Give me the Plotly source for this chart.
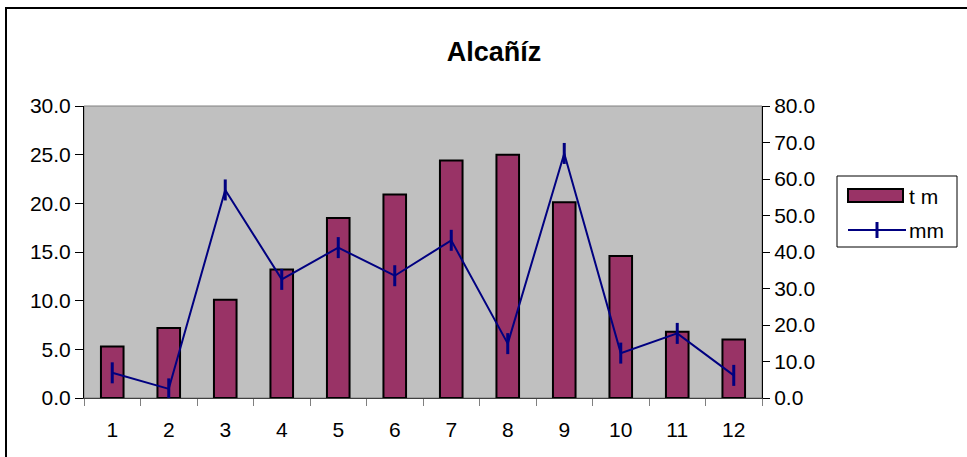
import plotly.graph_objects as go

# Datos de la estación
meses = ['1', '2', '3', '4', '5', '6', '7', '8', '9', '10', '11', '12']
temp_media = [5.3, 7.2, 10.1, 13.2, 18.5, 20.9, 24.4, 25.0, 20.1, 14.6, 6.8, 6.0]
precip_mm = [6.9, 2.5, 57.0, 32.5, 41.2, 33.5, 43.2, 14.9, 67.0, 12.3, 17.7, 6.2]

W, H = 967, 457
L, R, T, B = 84, 205, 106, 59
pw, ph = W - L - R, H - T - B

BAR = '#993366'
NAVY = '#000080'
FONT = 'Liberation Sans, Arial'


# pixeles -> coordenadas paper
def px(x):
    return (x - L) / pw


def py(y):
    return (H - B - y) / ph


fig = go.Figure()
fig.add_trace(go.Bar(
    x=meses, y=temp_media, name='t m',
    marker=dict(color=BAR, line=dict(color='black', width=2)),
    yaxis='y'
))
fig.add_trace(go.Scatter(
    x=meses, y=precip_mm, name='mm', mode='lines+markers',
    line=dict(color=NAVY, width=2),
    marker=dict(symbol='line-ns', size=15, line=dict(color=NAVY, width=3)),
    yaxis='y2'
))

axis_font = dict(family=FONT, size=21, color='black')
fig.update_layout(
    width=W, height=H,
    margin=dict(l=L, r=R, t=T, b=B),
    paper_bgcolor='white',
    plot_bgcolor='#C0C0C0',
    bargap=0.6,
    showlegend=False,
    title=dict(text='<b>Alcañíz</b>', x=494 / W, xanchor='center',
               y=1 - 52 / H, yanchor='middle',
               font=dict(family=FONT, size=27, color='black')),
    xaxis=dict(range=[-0.5, len(meses) - 0.5], showgrid=False, ticks='outside',
               tickson='boundaries', ticklen=7, tickcolor='#808080', showline=True,
               linecolor='#404040', linewidth=1, tickfont=axis_font, zeroline=False,
               ticklabelstandoff=13),
    yaxis=dict(range=[0, 30], dtick=5, tickformat='.1f', showgrid=False,
               ticks='outside', ticklen=8, tickcolor='black', showline=True,
               linecolor='black', linewidth=1, tickfont=axis_font, zeroline=False),
    yaxis2=dict(range=[0, 80], dtick=10, tickformat='.1f', overlaying='y', side='right',
                showgrid=False, ticks='outside', ticklen=7, tickcolor='black',
                showline=True, linecolor='black', linewidth=1, tickfont=axis_font,
                zeroline=False),
    shapes=[
        # borde del área de trazado
        dict(type='rect', xref='paper', yref='paper', x0=0, x1=1, y0=0, y1=1,
             line=dict(color='#808080', width=1), layer='below'),
        # borde exterior del gráfico
        dict(type='rect', xref='paper', yref='paper', x0=px(6), x1=px(975),
             y0=py(470), y1=py(8), line=dict(color='black', width=2)),
        # leyenda
        dict(type='rect', xref='paper', yref='paper', x0=px(837), x1=px(957),
             y0=py(247), y1=py(176), line=dict(color='black', width=1),
             fillcolor='white'),
        dict(type='rect', xref='paper', yref='paper', x0=px(848), x1=px(903),
             y0=py(202), y1=py(189), line=dict(color='black', width=2),
             fillcolor=BAR),
        dict(type='line', xref='paper', yref='paper', x0=px(848), x1=px(906),
             y0=py(230), y1=py(230), line=dict(color=NAVY, width=2)),
        dict(type='line', xref='paper', yref='paper', x0=px(877), x1=px(877),
             y0=py(222), y1=py(238), line=dict(color=NAVY, width=3)),
    ],
    annotations=[
        dict(text='t m', xref='paper', yref='paper', x=px(907), y=py(196),
             xanchor='left', yanchor='middle', showarrow=False,
             font=dict(family=FONT, size=21, color='black')),
        dict(text='mm', xref='paper', yref='paper', x=px(907), y=py(230),
             xanchor='left', yanchor='middle', showarrow=False,
             font=dict(family=FONT, size=21, color='black')),
    ]
)

fig.write_html('out.html', config={'displayModeBar': False},
               post_script="document.body.style.margin='0';")
